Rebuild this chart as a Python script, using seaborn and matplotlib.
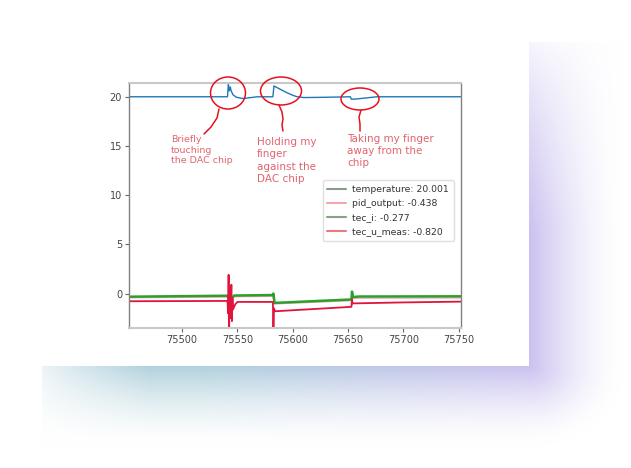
import numpy as np
import pandas as pd
import matplotlib
matplotlib.use("Agg")
import matplotlib.pyplot as plt
import seaborn as sns
from matplotlib.patches import Ellipse, Rectangle
from matplotlib.lines import Line2D

W, H = 631, 468

# --- data (time in s) ---
temp_t = [75452, 75541, 75541.8, 75542.6, 75543.5, 75544.3, 75546, 75549, 75555, 75568,
          75582, 75583, 75588, 75594, 75600, 75604, 75610, 75630, 75652, 75653, 75657, 75676, 75752]
temp_v = [20.0, 20.0, 21.25, 20.6, 21.0, 20.6, 20.2, 19.95, 19.82, 20.0,
          20.0, 21.1, 20.8, 20.45, 20.15, 20.0, 19.92, 19.95, 20.0, 19.75, 19.77, 20.0, 20.0]

tec_i_t = [75452, 75541, 75542, 75543, 75545, 75547, 75582, 75582.5, 75583.5,
           75653, 75653.5, 75654.5, 75660, 75752]
tec_i_v = [-0.32, -0.22, -0.6, 0.0, -0.5, -0.2, -0.15, 0.0, -0.95,
           -0.6, 0.2, -0.35, -0.3, -0.28]

pid_t = [75452, 75541, 75547, 75582, 75583.5, 75653, 75654.5, 75752]
pid_v = [-0.42, -0.35, -0.32, -0.28, -1.05, -0.72, -0.47, -0.44]

tec_u_t = [75452, 75541, 75541.5, 75542, 75542.5, 75543, 75543.5, 75544, 75544.5,
           75545, 75545.5, 75546, 75548, 75550, 75582, 75582.5, 75583, 75584,
           75653, 75653.5, 75654, 75700, 75752]
tec_u_v = [-0.78, -0.75, -2.0, 1.9, -3.4, 0.5, -2.5, -1.2, 0.9,
           -2.8, -0.5, -1.6, -1.1, -0.85, -0.85, -3.5, -1.5, -1.8,
           -1.35, -0.6, -1.0, -0.9, -0.82]

legend_labels = ["temperature: 20.001", "pid_output: -0.438", "tec_i: -0.277", "tec_u_meas: -0.820"]
legend_colors = ["#8a9a88", "#f2a6ae", "#8c9f8a", "#e87a84"]

notes = ["Briefly\ntouching\nthe DAC chip",
         "Holding my\nfinger\nagainst the\nDAC chip",
         "Taking my finger\naway from the\nchip"]

sns.set_style("white")
plt.rcParams["font.family"] = ["DejaVu Sans"]


def fx(x):
    return x / W


def fy(y):
    return 1 - y / H


fig = plt.figure(figsize=(W / 100, H / 100), dpi=100)

# background: white page with a soft teal/purple shadow behind the card
bg = fig.add_axes([0, 0, 1, 1])
bg.set_axis_off()
yy, xx = np.mgrid[0:H, 0:W].astype(float)
dx = np.clip(xx - 529, 0, None)
dy = np.clip(yy - 366, 0, None)
r = np.sqrt((dx / 95) ** 2 + (dy / 80) ** 2)
a = np.clip(1 - r, 0, 1) ** 1.6
a *= np.clip((yy - 30) / 200, 0, 1) ** 0.7
a *= np.clip((xx - 20) / 130, 0, 1) ** 0.8
a[(xx < 42) | (yy < 42)] = 0
mix = np.clip((xx - 200) / 330, 0, 1)[..., None]
teal = np.array([158, 198, 212]) / 255
purple = np.array([190, 178, 236]) / 255
col = teal * (1 - mix) + purple * mix
img = 1 - 0.8 * a[..., None] * (1 - col)
bg.imshow(img, extent=(0, W, H, 0), aspect="auto", interpolation="bilinear")
bg.set_xlim(0, W)
bg.set_ylim(H, 0)
bg.add_patch(Rectangle((42, 42), 529 - 42, 366 - 42, facecolor="white", edgecolor="none"))

# the chart itself
ax = fig.add_axes([fx(129), fy(328), (461 - 129) / W, (328 - 83) / H])
ax.set_facecolor("white")

sns.lineplot(x=temp_t, y=temp_v, ax=ax, color="#1f77b4", lw=1.0, sort=False,
             estimator=None, label=legend_labels[0])
sns.lineplot(x=pid_t, y=pid_v, ax=ax, color="#f2a6ae", lw=1.0, sort=False,
             estimator=None, label=legend_labels[1])
sns.lineplot(x=tec_i_t, y=tec_i_v, ax=ax, color="#2ca02c", lw=1.8, sort=False,
             estimator=None, label=legend_labels[2])
sns.lineplot(x=tec_u_t, y=tec_u_v, ax=ax, color="#e0143c", lw=1.3, sort=False,
             estimator=None, label=legend_labels[3])

ax.set_xlim(75452, 75752)
ax.set_ylim(-3.5, 21.4)
ax.set_xticks([75500, 75550, 75600, 75650, 75700, 75750])
ax.set_yticks([0, 5, 10, 15, 20])
ax.tick_params(axis="both", which="both", direction="out", length=3, width=0.8,
               color="#666666", labelsize=7, labelcolor="#444444", pad=2,
               bottom=True, left=True)
for side in ["top", "bottom"]:
    ax.spines[side].set_color("#c8c8c8")
    ax.spines[side].set_linewidth(1.5)
for side in ["left", "right"]:
    ax.spines[side].set_color("#808080")
    ax.spines[side].set_linewidth(1.0)

leg = ax.legend(loc="upper right", bbox_to_anchor=(0.992, 0.622), fontsize=6.7,
                frameon=True, handlelength=2.0, labelspacing=0.55, borderpad=0.5,
                handletextpad=0.7, labelcolor="#333333")
leg.get_frame().set_edgecolor("#d8d8d8")
for line, c in zip(leg.get_lines(), legend_colors):
    line.set_color(c)
    line.set_linewidth(1.5)

# hand-drawn annotations
note_color = "#e0646f"
fig.text(fx(171), fy(135), notes[0], ha="left", va="top", fontsize=6.8,
         color=note_color, linespacing=1.24)
fig.text(fx(257), fy(137), notes[1], ha="left", va="top", fontsize=7.5,
         color=note_color, linespacing=1.3)
fig.text(fx(347), fy(134), notes[2], ha="left", va="top", fontsize=7.5,
         color=note_color, linespacing=1.28)

ink = "#e8101e"
for cx, cy, w, h in [(228, 93, 35, 32), (281, 91, 41, 28), (360, 99, 38, 22)]:
    fig.add_artist(Ellipse((fx(cx), fy(cy)), w / W, h / H, transform=fig.transFigure,
                           fill=False, edgecolor=ink, linewidth=1.1))
stems = [
    [(219, 109), (217, 118), (211, 127), (204, 134)],
    [(279, 105), (282, 112), (283, 119), (282, 125), (283, 131)],
    [(361, 110), (359, 117), (360, 124), (360, 131)],
]
for pts in stems:
    xs = [fx(p[0]) for p in pts]
    ys = [fy(p[1]) for p in pts]
    fig.add_artist(Line2D(xs, ys, transform=fig.transFigure, color=ink, linewidth=1.1))

fig.savefig("out.png", dpi=100)
